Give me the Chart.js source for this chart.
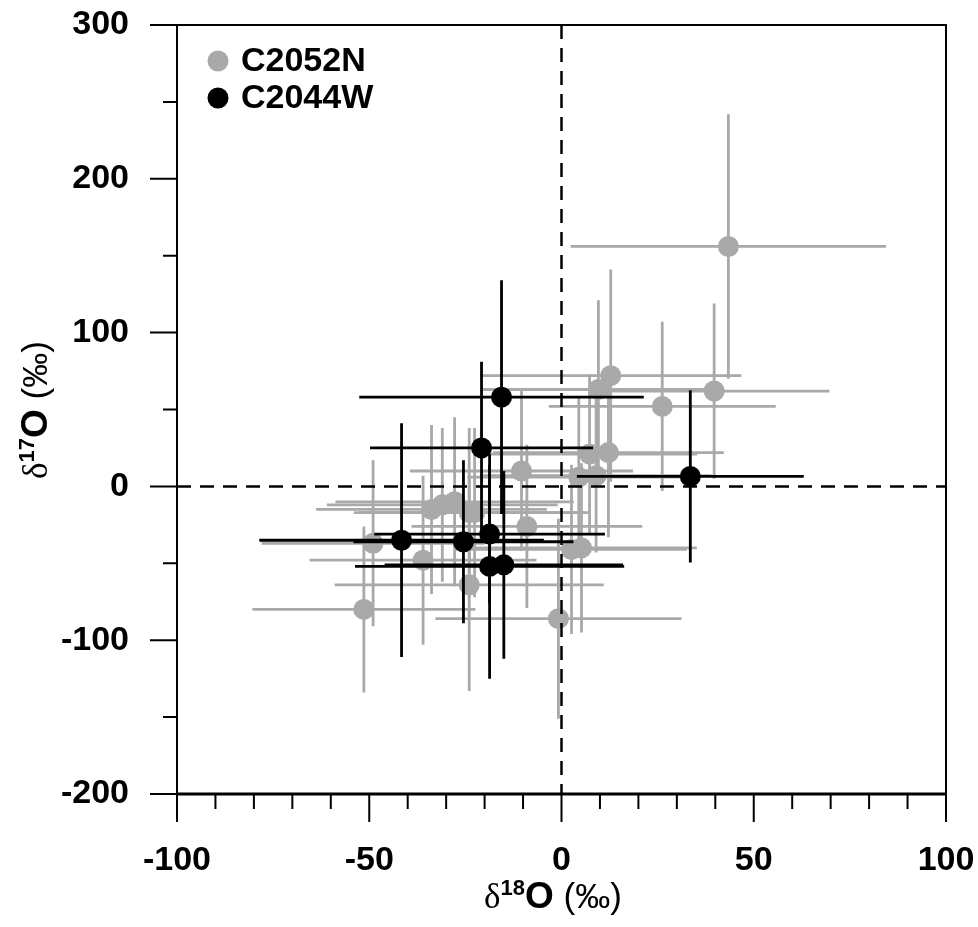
<!DOCTYPE html>
<html>
<head>
<meta charset="utf-8">
<script src="https://cdn.jsdelivr.net/npm/chart.js@4.4.0/dist/chart.umd.min.js"></script>
<style>
  html, body { margin: 0; padding: 0; background: #fff; }
</style>
</head>
<body>
<canvas id="myChart" width="978" height="927"></canvas>
<script>
// C2052N (gray)
const grayX    = [43.4, 39.7, 26.2, 12.8, 9.6, 12.2, 7.3, 9.0, 4.5, -10.4, -9.0, -22.6, 2.6, 5.2, -0.8, -33.8, -27.8, -24.0, -49.0, -36.0, -51.4, -24.0, -31.0];
const grayY    = [156, 62, 52, 72, 63, 22, 21, 7, 6, 10, -26, -17, -41, -40, -86, -15, -10, -17, -37, -48, -80, -64, -12];
const grayXErr = [41, 30, 29.5, 34, 30, 30, 28, 30, 29, 29, 30, 30, 30, 30, 32, 30, 31, 30, 29, 29.5, 29, 35, 30];
const grayYErr = [86, 57, 55, 69, 58, 55, 52, 50, 52, 52, 53, 55, 55, 55, 65, 55, 55, 55, 54, 55, 54, 69, 50];

// C2044W (black)
const blackX    = [-15.6, -20.8, 33.5, -41.6, -25.5, -18.7, -18.7, -15.0];
const blackY    = [58, 25, 6.5, -35, -36, -31, -52, -51];
const blackXErr = [37, 29, 29.5, 37, 28.6, 30, 35, 31];
const blackYErr = [76, 56, 56, 76, 53, 45, 73, 61];

const xTicks = [-100, -50, 0, 50, 100];
const yTicks = [-200, -100, 0, 100, 200, 300];
const xMinor = [-90, -80, -70, -60, -40, -30, -20, -10, 10, 20, 30, 40, 60, 70, 80, 90];
const yMinor = [-150, -50, 50, 150, 250];

const GRAY = '#a9a9a9';
const FONT = 'Liberation Sans';

function points(xs, ys, xe, ye) {
  return xs.map((x, i) => ({ x: x, y: ys[i], xErr: xe[i], yErr: ye[i] }));
}

// error bars behind each dataset's own points
const errorBars = {
  id: 'errorBars',
  beforeDatasetDraw(chart, args) {
    const ds = chart.data.datasets[args.index];
    const xs = chart.scales.x, ys = chart.scales.y;
    const ctx = chart.ctx;
    ctx.save();
    ctx.strokeStyle = ds.barColor;
    ctx.lineWidth = 2.8;
    ds.data.forEach(p => {
      const px = xs.getPixelForValue(p.x);
      const py = ys.getPixelForValue(p.y);
      ctx.beginPath();
      ctx.moveTo(xs.getPixelForValue(p.x - p.xErr), py);
      ctx.lineTo(xs.getPixelForValue(p.x + p.xErr), py);
      ctx.moveTo(px, ys.getPixelForValue(p.y - p.yErr));
      ctx.lineTo(px, ys.getPixelForValue(p.y + p.yErr));
      ctx.stroke();
    });
    ctx.restore();
  }
};

function drawPieces(ctx, pieces, x, y) {
  let w = 0;
  pieces.forEach(p => { ctx.font = p.font; w += ctx.measureText(p.text).width; });
  let cx = x - w / 2;
  pieces.forEach(p => {
    ctx.font = p.font;
    ctx.fillText(p.text, cx, y + (p.dy || 0));
    cx += ctx.measureText(p.text).width;
  });
}

const frame = {
  id: 'frame',
  afterDatasetsDraw(chart) {
    const { ctx, chartArea: a, scales: { x, y } } = chart;
    ctx.save();
    // zero lines
    ctx.strokeStyle = '#000';
    ctx.lineWidth = 2.5;
    ctx.setLineDash([14, 9]);
    ctx.beginPath();
    ctx.moveTo(x.getPixelForValue(0), a.top);
    ctx.lineTo(x.getPixelForValue(0), a.bottom);
    ctx.moveTo(a.left, y.getPixelForValue(0));
    ctx.lineTo(a.right, y.getPixelForValue(0));
    ctx.stroke();
    ctx.setLineDash([]);
    ctx.restore();
  },
  afterDraw(chart) {
    const { ctx, chartArea: a, scales: { x, y } } = chart;
    ctx.save();
    ctx.strokeStyle = '#000';
    ctx.lineWidth = 2;
    ctx.strokeRect(a.left, a.top, a.right - a.left, a.bottom - a.top);
    ctx.lineWidth = 3;
    ctx.beginPath();
    ctx.moveTo(a.left, a.bottom);
    ctx.lineTo(a.right, a.bottom);
    ctx.stroke();

    ctx.lineWidth = 2;
    ctx.beginPath();
    xTicks.forEach(v => { const p = x.getPixelForValue(v); ctx.moveTo(p, a.bottom); ctx.lineTo(p, a.bottom + 28); });
    xMinor.forEach(v => { const p = x.getPixelForValue(v); ctx.moveTo(p, a.bottom); ctx.lineTo(p, a.bottom + 15); });
    yTicks.forEach(v => { const p = y.getPixelForValue(v); ctx.moveTo(a.left, p); ctx.lineTo(a.left - 27, p); });
    yMinor.forEach(v => { const p = y.getPixelForValue(v); ctx.moveTo(a.left, p); ctx.lineTo(a.left - 14, p); });
    ctx.stroke();

    // legend
    const rows = [[GRAY, chart.data.datasets[0].label, 61], ['#000', chart.data.datasets[1].label, 98]];
    rows.forEach(r => {
      ctx.fillStyle = r[0];
      ctx.beginPath();
      ctx.arc(218, r[2], 10.5, 0, Math.PI * 2);
      ctx.fill();
      ctx.fillStyle = '#000';
      ctx.font = 'bold 34px "' + FONT + '"';
      ctx.textBaseline = 'middle';
      ctx.fillText(r[1], 241, r[2] + 1);
    });

    // axis titles
    ctx.textBaseline = 'alphabetic';
    ctx.fillStyle = '#000';
    const title = (n) => [
      { text: '\u03B4', font: '35px "Liberation Serif"' },
      { text: n, font: 'bold 22px "' + FONT + '"', dy: -13 },
      { text: 'O', font: 'bold 37px "' + FONT + '"' },
      { text: ' (\u2030)', font: '35px "' + FONT + '"' }
    ];
    drawPieces(ctx, title('18'), 553, 908);
    ctx.translate(47, 410);
    ctx.rotate(-Math.PI / 2);
    drawPieces(ctx, title('17'), 0, 0);
    ctx.restore();
  }
};

const tickFont = { family: FONT, size: 34, weight: 'bold' };

new Chart(document.getElementById('myChart'), {
  type: 'scatter',
  data: {
    datasets: [
      {
        label: 'C2052N',
        data: points(grayX, grayY, grayXErr, grayYErr),
        backgroundColor: GRAY,
        borderWidth: 0,
        pointRadius: 10.5,
        barColor: GRAY,
        order: 2
      },
      {
        label: 'C2044W',
        data: points(blackX, blackY, blackXErr, blackYErr),
        backgroundColor: '#000',
        borderWidth: 0,
        pointRadius: 10.5,
        barColor: '#000',
        order: 1
      }
    ]
  },
  options: {
    responsive: false,
    animation: false,
    layout: { padding: { top: 25, right: 32, left: 0, bottom: 0 } },
    plugins: { legend: { display: false }, tooltip: { enabled: false } },
    scales: {
      x: {
        type: 'linear', min: -100, max: 100,
        grid: { display: false }, border: { display: false },
        ticks: { font: tickFont, color: '#000', padding: 38, maxRotation: 0 },
        afterBuildTicks: s => { s.ticks = xTicks.map(v => ({ value: v })); },
        afterFit: s => { s.height = 133; s.paddingLeft = 0; s.paddingRight = 0; }
      },
      y: {
        type: 'linear', min: -200, max: 300,
        grid: { display: false }, border: { display: false },
        ticks: { font: tickFont, color: '#000', padding: 40 },
        afterBuildTicks: s => { s.ticks = yTicks.map(v => ({ value: v })); },
        afterFit: s => { s.width = 177; s.paddingTop = 0; s.paddingBottom = 0; }
      }
    }
  },
  plugins: [errorBars, frame]
});
</script>
</body>
</html>
